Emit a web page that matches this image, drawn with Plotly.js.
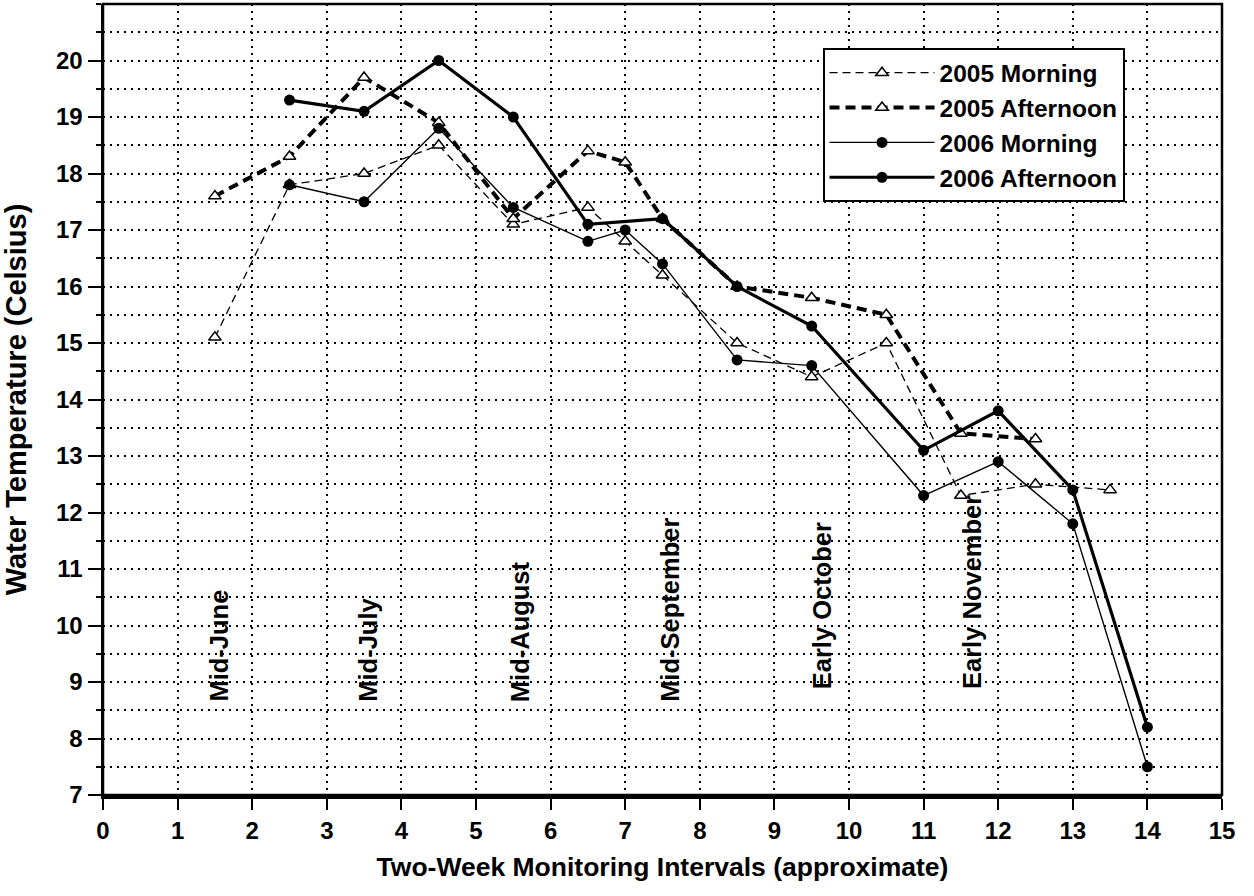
<!DOCTYPE html>
<html>
<head>
<meta charset="utf-8">
<script src="https://cdn.plot.ly/plotly-3.0.1.min.js"></script>
<style>html,body{margin:0;padding:0;background:#fff;}#chart{width:1254px;height:896px;}</style>
</head>
<body>
<div id="chart"></div>
<script>
// ---- data ----
var seriesNames = ["2005 Morning", "2005 Afternoon", "2006 Morning", "2006 Afternoon"];

var x2005Morning = [1.5, 2.5, 3.5, 4.5, 5.5, 6.5, 7, 7.5, 8.5, 9.5, 10.5, 11.5, 12.5, 13.5];
var y2005Morning = [15.1, 17.8, 18.0, 18.5, 17.1, 17.4, 16.8, 16.2, 15.0, 14.4, 15.0, 12.3, 12.5, 12.4];

var x2005Afternoon = [1.5, 2.5, 3.5, 4.5, 5.5, 6.5, 7, 7.5, 8.5, 9.5, 10.5, 11.5, 12.5];
var y2005Afternoon = [17.6, 18.3, 19.7, 18.9, 17.2, 18.4, 18.2, 17.2, 16.0, 15.8, 15.5, 13.4, 13.3];

var x2006Morning = [2.5, 3.5, 4.5, 5.5, 6.5, 7, 7.5, 8.5, 9.5, 11, 12, 13, 14];
var y2006Morning = [17.8, 17.5, 18.8, 17.4, 16.8, 17.0, 16.4, 14.7, 14.6, 12.3, 12.9, 11.8, 7.5];

var x2006Afternoon = [2.5, 3.5, 4.5, 5.5, 6.5, 7.5, 8.5, 9.5, 11, 12, 13, 14];
var y2006Afternoon = [19.3, 19.1, 20.0, 19.0, 17.1, 17.2, 16.0, 15.3, 13.1, 13.8, 12.4, 8.2];

var periodLabels = ["Mid-June", "Mid-July", "Mid-August", "Mid-September", "Early October", "Early November"];
var xTickVals = [0,1,2,3,4,5,6,7,8,9,10,11,12,13,14,15];
var yTickVals = [7,8,9,10,11,12,13,14,15,16,17,18,19,20];

// ---- styling ----
var FONT = "Liberation Sans, Arial, Helvetica, sans-serif";
var GRID_DASH = "2px,5px";
var triMarker = {symbol: "triangle-up", size: 11, color: "#ffffff", line: {color: "#000000", width: 1.5}};
var dotMarker = {symbol: "circle", size: 11, color: "#000000", line: {color: "#000000", width: 0}};

var traces = [
  {x: x2005Morning, y: y2005Morning, name: seriesNames[0], type: "scatter", mode: "lines+markers",
   line: {color: "#000", width: 1.3, dash: "8px,5px"}, marker: triMarker},
  {x: x2005Afternoon, y: y2005Afternoon, name: seriesNames[1], type: "scatter", mode: "lines+markers",
   line: {color: "#000", width: 4, dash: "10px,6px"}, marker: triMarker},
  {x: x2006Morning, y: y2006Morning, name: seriesNames[2], type: "scatter", mode: "lines+markers",
   line: {color: "#000", width: 1.4}, marker: dotMarker},
  {x: x2006Afternoon, y: y2006Afternoon, name: seriesNames[3], type: "scatter", mode: "lines+markers",
   line: {color: "#000", width: 3.2}, marker: dotMarker}
];

var labelPos = [[1.55, 8.63], [3.55, 8.63], [5.6, 8.63], [7.6, 8.63], [9.65, 8.86], [11.65, 8.86]];
var annotations = periodLabels.map(function (t, i) {
  return {text: t, x: labelPos[i][0], y: labelPos[i][1], xref: "x", yref: "y",
          textangle: -90, showarrow: false, xanchor: "center", yanchor: "bottom",
          font: {family: FONT, size: 25.5, color: "#000", weight: 700}, borderpad: 0};
});

var layout = {
  width: 1254, height: 896,
  margin: {l: 103, r: 32, t: 4, b: 101, pad: 0},
  paper_bgcolor: "#fff", plot_bgcolor: "#fff",
  font: {family: FONT, size: 24, color: "#000", weight: 700},
  showlegend: true,
  legend: {x: 0.643, y: 0.944, xanchor: "left", yanchor: "top",
           bgcolor: "#fff", bordercolor: "#000", borderwidth: 2,
           font: {family: FONT, size: 24.5, color: "#000", weight: 700},
           itemwidth: 105, tracegroupgap: 0},
  xaxis: {
    range: [0, 15], tickvals: xTickVals, ticktext: xTickVals.map(String),
    showgrid: true, gridcolor: "#000", gridwidth: 2, griddash: GRID_DASH,
    zeroline: false, showline: true, linecolor: "#000", linewidth: 4,
    ticks: "outside", ticklen: 11, tickwidth: 2, tickcolor: "#000",
    tickfont: {family: FONT, size: 24, color: "#000", weight: 700},
    title: {text: "Two-Week Monitoring Intervals (approximate)", standoff: 16,
            font: {family: FONT, size: 26.5, color: "#000", weight: 700}},
    automargin: false
  },
  yaxis: {
    range: [7, 21], tickvals: yTickVals, ticktext: yTickVals.map(String),
    showgrid: true, gridcolor: "#000", gridwidth: 2, griddash: GRID_DASH,
    zeroline: false, showline: true, linecolor: "#000", linewidth: 2.5,
    ticks: "outside", ticklen: 13, tickwidth: 2, tickcolor: "#000",
    tickfont: {family: FONT, size: 24, color: "#000", weight: 700},
    minor: {dtick: 0.5, tick0: 7, ticks: "outside", ticklen: 5, tickwidth: 2, tickcolor: "#000",
            showgrid: true, gridcolor: "#000", gridwidth: 2, griddash: GRID_DASH},
    title: {text: "Water Temperature (Celsius)", standoff: 24,
            font: {family: FONT, size: 29, color: "#000", weight: 700}},
    automargin: false
  },
  shapes: [
    {type: "rect", xref: "paper", yref: "paper", x0: 0, x1: 1, y0: 0, y1: 1,
     line: {color: "#000", width: 2.5}, fillcolor: "rgba(0,0,0,0)", layer: "above"}
  ],
  annotations: annotations
};

Plotly.newPlot("chart", traces, layout, {displayModeBar: false, staticPlot: true});
</script>
</body>
</html>
